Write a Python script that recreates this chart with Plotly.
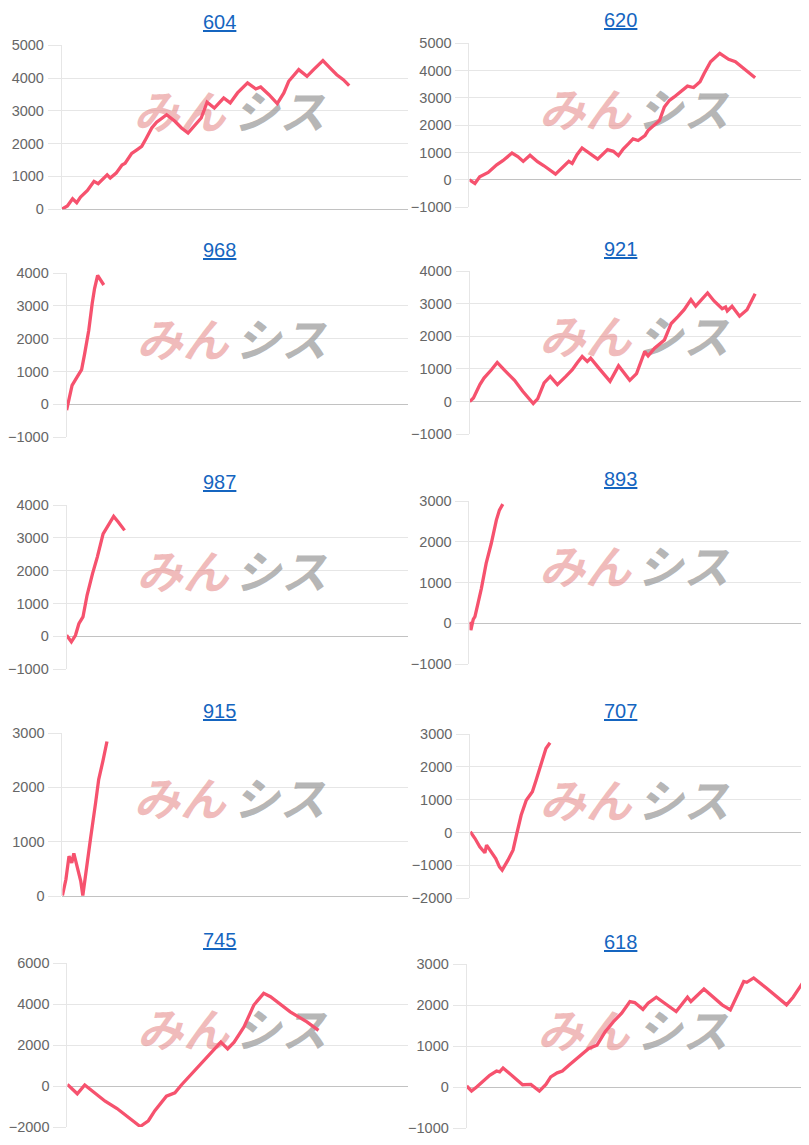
import plotly.graph_objects as go

# ── DATA ──
# x = position in the trading period (0-100), y = cumulative profit

titles = ["604", "620", "968", "921", "987", "893", "915", "707", "745", "618"]

x_604 = [0, 1.6, 3.1, 4.3, 5.4, 7.4, 9.3, 10.5, 13.1, 14.0, 15.7, 17.4, 18.3, 20.2, 21.7,
         23.1, 24.3, 26.0, 27.4, 30.3, 32.7, 34.6, 36.5, 38.4, 40.3, 42.0, 44.1, 46.8,
         48.7, 50.8, 53.7, 56.1, 57.5, 59.9, 62.3, 64.2, 65.6, 68.5, 70.9, 72.8, 75.5,
         77.6, 79.5, 81.4, 83.1]
y_604 = [0, 100, 320, 200, 370, 570, 850, 780, 1050, 950, 1100, 1350, 1400, 1700, 1810,
         1915, 2140, 2475, 2650, 2880, 2680, 2475, 2320, 2545, 2780, 3260, 3085, 3390,
         3240, 3545, 3850, 3665, 3725, 3490, 3220, 3545, 3900, 4255, 4050, 4255, 4530,
         4300, 4100, 3950, 3770]

x_620 = [0, 1.6, 3.0, 5.5, 8.0, 9.8, 12.5, 14.2, 15.8, 17.8, 20.0, 21.9, 25.3, 27.3,
         29.2, 30.2, 31.6, 33.1, 35.5, 37.7, 40.6, 42.3, 43.8, 45.2, 46.7, 48.1, 49.6,
         51.6, 52.5, 54.4, 55.9, 57.3, 58.8, 60.2, 62.2, 64.1, 65.9, 67.8, 69.0, 70.9,
         73.6, 76.2, 78.2, 80.6, 84.0]
y_620 = [0, -135, 110, 270, 550, 700, 980, 850, 675, 900, 665, 515, 210, 455, 675, 600,
         920, 1165, 970, 760, 1105, 1045, 885, 1130, 1315, 1500, 1440, 1620, 1805, 2015,
         2175, 2665, 2910, 3035, 3255, 3430, 3380, 3590, 3895, 4325, 4630, 4410, 4325,
         4080, 3735]

x_968 = [0, 0.7, 1.6, 3.1, 4.4, 5.3, 6.5, 7.5, 8.2, 9.1, 10.9]
y_968 = [-180, 120, 580, 835, 1060, 1545, 2260, 3075, 3530, 3930, 3640]

x_921 = [0, 1.1, 3.0, 4.2, 6.4, 8.1, 10.3, 13.2, 15.6, 18.7, 20.0, 21.9, 23.7, 25.8,
         28.3, 30.2, 31.6, 33.1, 34.6, 35.6, 38.0, 41.3, 43.8, 47.1, 49.1, 51.5, 52.5,
         54.4, 57.3, 59.3, 61.2, 63.1, 65.1, 66.5, 70.0, 71.9, 74.3, 75.3, 75.8, 77.2,
         79.4, 81.6, 84.0]
y_921 = [0, 110, 520, 720, 975, 1200, 955, 650, 315, -60, 80, 570, 770, 520, 770, 975,
         1180, 1380, 1230, 1330, 1025, 620, 1095, 650, 855, 1535, 1400, 1635, 1890, 2395,
         2600, 2820, 3125, 2925, 3330, 3085, 2850, 2900, 2780, 2925, 2620, 2820, 3310]

x_987 = [0, 1.4, 2.6, 3.6, 4.8, 6.0, 7.6, 9.0, 10.7, 12.4, 13.8, 15.2, 17.0]
y_987 = [30, -170, 30, 385, 590, 1250, 1910, 2415, 3125, 3410, 3655, 3480, 3230]

x_893 = [0, 0.4, 1.1, 1.6, 2.5, 3.5, 4.9, 6.4, 7.9, 8.8, 9.8]
y_893 = [40, -165, 100, 165, 490, 860, 1470, 1960, 2535, 2780, 2925]

x_915 = [0, 1.0, 1.9, 2.7, 3.3, 4.3, 5.3, 5.9, 6.7, 8.1, 9.6, 10.5, 11.7, 12.9]
y_915 = [10, 305, 735, 610, 785, 550, 275, 10, 430, 1040, 1715, 2145, 2480, 2845]

x_707 = [0, 1.4, 2.8, 4.3, 4.8, 6.2, 7.5, 8.6, 9.4, 11.1, 12.6, 13.6, 15.0, 16.5, 18.3,
         19.4, 20.8, 22.3, 23.5]
y_707 = [20, -185, -435, -620, -385, -590, -795, -1050, -1150, -845, -540, -80, 530,
         985, 1240, 1595, 2105, 2560, 2735]

x_745 = [0, 2.9, 5.1, 7.3, 11.1, 14.6, 18.0, 21.4, 23.8, 25.7, 29.1, 31.6, 33.5, 37.4,
         41.3, 45.1, 47.1, 49.0, 51.9, 54.8, 57.7, 59.7, 65.5, 70.4, 73.8]
y_745 = [80, -380, 50, -245, -740, -1100, -1560, -1975, -1695, -1200, -495, -330, 50,
         740, 1480, 2140, 1810, 2140, 2880, 3950, 4520, 4360, 3620, 3125, 2715]

x_618 = [0, 1.4, 2.9, 4.6, 6.7, 8.7, 9.6, 10.6, 13.5, 16.3, 18.7, 21.2, 23.1, 24.5,
         26.4, 27.9, 29.8, 32.7, 35.6, 38.0, 40.4, 42.8, 45.2, 47.6, 49.0, 51.4, 52.9,
         55.3, 58.2, 61.1, 64.4, 65.4, 69.2, 71.6, 74.5, 76.9, 80.8, 81.7, 83.7, 87.5,
         93.3, 95.2, 98.6]
y_618 = [25, -100, 0, 125, 285, 390, 370, 465, 260, 55, 65, -100, 65, 245, 345, 390,
         530, 735, 940, 1020, 1350, 1595, 1800, 2085, 2060, 1895, 2045, 2190, 2005, 1840,
         2190, 2085, 2390, 2225, 2005, 1880, 2575, 2555, 2660, 2410, 2005, 2190, 2615]

series_x = [x_604, x_620, x_968, x_921, x_987, x_893, x_915, x_707, x_745, x_618]
series_y = [y_604, y_620, y_968, y_921, y_987, y_893, y_915, y_707, y_745, y_618]

# y axis ranges (min, max, step)
y_ranges = [(0, 5000, 1000), (-1000, 5000, 1000), (-1000, 4000, 1000), (-1000, 4000, 1000),
            (-1000, 4000, 1000), (-1000, 3000, 1000), (0, 3000, 1000), (-2000, 3000, 1000),
            (-2000, 6000, 2000), (-1000, 3000, 1000)]

# ── LAYOUT ──
# screen coordinates (px) of each panel: left, right, top, bottom, title y
boxes = [
    (52.7, 402, 45, 209, 22), (464.5, 808, 43, 207, 20),
    (57.5, 402, 273, 437, 250), (464.7, 808, 271, 434, 249),
    (57.5, 402, 505, 669, 482), (464.5, 808, 501, 664, 479),
    (53.3, 402, 733, 896, 711), (465.3, 808, 734, 898, 711),
    (58.3, 402, 963, 1127, 940), (461.7, 808, 964, 1128, 942),
]

# the photographed page is offset and scaled a little against the figure;
# these factors map a screen position back into figure space
W, H = 817, 1145
SX, SY = 809 / 825, 1145 / 1161
PAD_X, PAD_Y = (825 - W) / 2, 16
X_SHIFT, X_STRETCH = 10.5, 1.01


def fx(px):
    px = (px - X_SHIFT) / X_STRETCH
    return (px / SX - PAD_X) / W


def fy(py):
    return 1 - (py / SY - PAD_Y) / H


LINE_COLOR = "rgb(246,82,110)"
GRID = "#e6e6e6"
FONT = "Liberation Sans, Arial, sans-serif"

fig = go.Figure()
annotations = []

for i, (title, xs, ys, (ymin, ymax, step), (l, r, t, b, ty)) in enumerate(
        zip(titles, series_x, series_y, y_ranges, boxes)):
    n = i + 1
    xa = "x" if n == 1 else f"x{n}"
    ya = "y" if n == 1 else f"y{n}"

    # clip the right edge to the figure but keep the data scale
    x0, x1 = fx(l), fx(r)
    x1c = min(x1, 1.0)
    xmax = 100 * (x1c - x0) / (x1 - x0)

    # watermark first, so the line sits on top of it
    wy = ymin + 0.56 * (ymax - ymin)
    fig.add_trace(go.Scatter(
        x=[34.0, 62.8], y=[wy, wy], mode="text",
        text=["みん", "シス"],
        textfont=dict(family="Noto Sans CJK JP", size=46, weight="bold", style="italic",
                      color=["rgba(225,120,120,0.5)", "rgba(150,150,150,0.7)"]),
        xaxis=xa, yaxis=ya, hoverinfo="skip", showlegend=False,
    ))

    fig.add_trace(go.Scatter(
        x=xs, y=ys, mode="lines",
        line=dict(color=LINE_COLOR, width=3.3),
        xaxis=xa, yaxis=ya, hoverinfo="skip", showlegend=False,
    ))

    fig.update_layout({
        ("xaxis" if n == 1 else f"xaxis{n}"): dict(
            domain=[x0, x1c], range=[0, xmax], anchor=ya,
            showgrid=False, zeroline=False, showticklabels=False, showline=False,
            fixedrange=True,
        ),
        ("yaxis" if n == 1 else f"yaxis{n}"): dict(
            domain=[fy(b), fy(t)], range=[ymin, ymax], anchor=xa,
            tickvals=list(range(ymin, ymax + 1, step)),
            gridcolor=GRID, gridwidth=1,
            zeroline=True, zerolinecolor="#c2c2c2", zerolinewidth=1,
            showline=True, linecolor=GRID, linewidth=1,
            ticks="outside", ticklen=13, tickcolor=GRID, ticklabelstandoff=1,
            tickfont=dict(family=FONT, size=14.5, color="#666666"),
            fixedrange=True,
        ),
    })

    col_center = 212 if n % 2 == 1 else 617
    annotations.append(dict(
        text=f"<u>{title}</u>", x=fx(col_center), y=fy(ty),
        xref="paper", yref="paper", xanchor="center", yanchor="middle",
        showarrow=False, font=dict(family=FONT, size=20, color="#1565c0"),
    ))

fig.update_layout(
    width=W, height=H,
    margin=dict(l=0, r=0, t=0, b=0),
    paper_bgcolor="white", plot_bgcolor="white",
    annotations=annotations,
    hovermode=False,
)

fig.write_html("out.html")
